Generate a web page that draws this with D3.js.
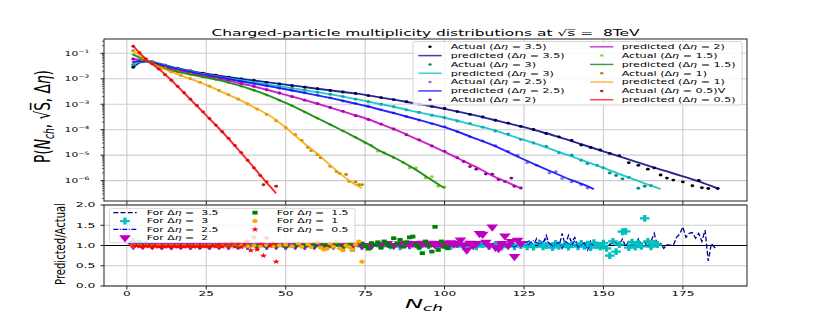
<!DOCTYPE html>
<html><head><meta charset="utf-8">
<script src="https://cdn.jsdelivr.net/npm/d3@7"></script>
<style>
html,body{margin:0;padding:0;background:#fff;}
svg{display:block;}
text{font-family:"DejaVu Sans",sans-serif;white-space:pre;fill:#000;}
</style></head><body>
<svg id="chart" width="830" height="327"></svg>
<script>
// ---------------- DATA ----------------
const xTicks = [0,25,50,75,100,125,150,175];
const xTickLabels = ["0","25","50","75","100","125","150","175"];
const topDecades = [-1,-2,-3,-4,-5,-6];
const ratioTicks = [0,0.5,1,1.5,2];
const ratioTickLabels = ["0.0","0.5","1.0","1.5","2.0"];
const etaLabels = ["3.5","3","2.5","2","1.5","1","0.5"];

// predicted curves: [Nch, log10 P]
const pred35 = [[2,-1.55],[4,-1.37],[6,-1.31],[8,-1.33],[10,-1.4],[15,-1.56],[20,-1.69],[25,-1.8],[30,-1.9],[35,-1.99],[40,-2.07],[45,-2.15],[50,-2.23],[55,-2.31],[60,-2.39],[65,-2.47],[70,-2.55],[75,-2.63],[80,-2.74],[85,-2.84],[90,-2.95],[95,-3.06],[100,-3.18],[105,-3.31],[110,-3.45],[115,-3.6],[120,-3.75],[125,-3.9],[130,-4.07],[135,-4.25],[140,-4.45],[145,-4.65],[150,-4.85],[155,-5.05],[160,-5.25],[165,-5.45],[170,-5.64],[175,-5.83],[180,-6.03],[186,-6.31]];
const pred3 = [[2,-1.45],[4,-1.33],[6,-1.31],[8,-1.35],[10,-1.42],[15,-1.58],[20,-1.72],[25,-1.84],[30,-1.95],[35,-2.05],[40,-2.14],[45,-2.24],[50,-2.33],[55,-2.43],[60,-2.53],[65,-2.63],[70,-2.75],[75,-2.87],[80,-3.0],[85,-3.13],[90,-3.27],[95,-3.4],[100,-3.53],[105,-3.68],[110,-3.84],[115,-4.0],[120,-4.2],[125,-4.4],[130,-4.6],[135,-4.83],[140,-5.05],[145,-5.27],[150,-5.5],[155,-5.74],[160,-5.97],[165,-6.2],[168,-6.33]];
const pred25 = [[2,-1.34],[4,-1.3],[6,-1.31],[8,-1.37],[10,-1.44],[15,-1.6],[20,-1.74],[25,-1.86],[30,-1.97],[35,-2.08],[40,-2.19],[45,-2.3],[50,-2.41],[55,-2.53],[60,-2.65],[65,-2.78],[70,-2.92],[75,-3.06],[80,-3.22],[85,-3.38],[90,-3.55],[95,-3.72],[100,-3.9],[105,-4.12],[110,-4.36],[115,-4.6],[120,-4.88],[125,-5.17],[130,-5.45],[135,-5.72],[140,-5.98],[145,-6.22],[147,-6.33]];
const pred2 = [[2,-1.22],[4,-1.25],[6,-1.31],[8,-1.4],[10,-1.48],[15,-1.64],[20,-1.78],[25,-1.9],[30,-2.02],[35,-2.16],[40,-2.3],[45,-2.46],[50,-2.63],[55,-2.8],[60,-2.98],[65,-3.17],[70,-3.36],[75,-3.55],[80,-3.78],[85,-4.03],[90,-4.3],[95,-4.58],[100,-4.87],[105,-5.17],[110,-5.47],[115,-5.8],[120,-6.08],[124,-6.3]];
const pred15 = [[2,-1.05],[4,-1.17],[6,-1.29],[8,-1.4],[10,-1.5],[15,-1.7],[20,-1.83],[25,-1.95],[30,-2.08],[35,-2.25],[40,-2.45],[45,-2.68],[50,-2.95],[55,-3.24],[60,-3.55],[65,-3.86],[70,-4.17],[75,-4.5],[80,-4.85],[85,-5.15],[90,-5.5],[95,-5.9],[100,-6.3]];
const pred1 = [[2,-0.9],[4,-1.08],[6,-1.25],[8,-1.4],[10,-1.52],[15,-1.78],[20,-2.0],[25,-2.24],[30,-2.52],[35,-2.8],[40,-3.12],[45,-3.45],[50,-3.92],[55,-4.45],[60,-4.95],[65,-5.5],[70,-6.0],[74,-6.3]];
const pred05 = [[2,-0.72],[4,-0.98],[6,-1.22],[8,-1.42],[10,-1.61],[15,-2.18],[20,-2.81],[25,-3.44],[30,-4.08],[35,-4.77],[40,-5.49],[45,-6.22],[47,-6.5]];

// actual points: [Nch, log10 P]
const act35 = [[2,-1.55],[5,-1.33],[8,-1.34],[12,-1.47],[16,-1.58],[20,-1.69],[24,-1.78],[28,-1.86],[32,-1.94],[36,-2.01],[40,-2.07],[44,-2.14],[48,-2.2],[52,-2.27],[56,-2.33],[60,-2.39],[64,-2.46],[68,-2.52],[72,-2.58],[76,-2.66],[80,-2.74],[84,-2.82],[88,-2.9],[92,-2.99],[96,-3.08],[100,-3.17],[104,-3.29],[108,-3.4],[112,-3.5],[116,-3.63],[120,-3.74],[124,-3.87],[128,-3.99],[132,-4.15],[136,-4.28],[140,-4.42],[143,-4.6],[146,-4.7],[149,-4.8],[152,-4.93],[155,-5.02],[158,-5.3],[161,-5.4],[164,-5.55],[166,-5.5],[168,-5.78],[170,-5.9],[172,-5.98],[175,-6.05],[178,-6.2],[180,-5.99],[181,-6.28],[183,-6.31],[186,-6.31]];
const act3 = [[2,-1.45],[5,-1.31],[8,-1.35],[12,-1.48],[16,-1.6],[20,-1.72],[24,-1.82],[28,-1.91],[32,-1.99],[36,-2.07],[40,-2.14],[44,-2.22],[48,-2.29],[52,-2.37],[56,-2.45],[60,-2.53],[64,-2.61],[68,-2.7],[72,-2.8],[76,-2.9],[80,-3.0],[84,-3.1],[88,-3.22],[92,-3.32],[96,-3.43],[100,-3.53],[104,-3.66],[108,-3.76],[112,-3.9],[116,-4.05],[120,-4.18],[124,-4.38],[128,-4.52],[132,-4.66],[136,-4.9],[140,-5.0],[143,-5.2],[145,-5.33],[148,-5.4],[150,-5.5],[152,-5.7],[154,-5.8],[156,-5.93],[158,-5.88],[161,-6.3],[163,-6.22],[165,-6.2]];
const act25 = [[2,-1.34],[5,-1.3],[8,-1.37],[12,-1.5],[16,-1.63],[20,-1.74],[24,-1.84],[28,-1.93],[32,-2.02],[36,-2.1],[40,-2.19],[44,-2.28],[48,-2.37],[52,-2.46],[56,-2.55],[60,-2.65],[64,-2.75],[68,-2.87],[72,-2.97],[76,-3.09],[80,-3.22],[84,-3.34],[88,-3.48],[92,-3.63],[96,-3.76],[100,-3.88],[104,-4.08],[108,-4.28],[112,-4.44],[116,-4.63],[120,-4.85],[123,-5.0],[126,-5.3],[129,-5.4],[133,-5.7],[135,-5.65],[137,-5.92],[140,-6.05],[143,-6.16],[145,-6.29]];
const act2 = [[2,-1.22],[5,-1.28],[8,-1.4],[12,-1.55],[16,-1.67],[20,-1.78],[24,-1.88],[28,-1.97],[32,-2.08],[36,-2.19],[40,-2.3],[44,-2.43],[48,-2.56],[52,-2.7],[56,-2.84],[60,-2.98],[64,-3.13],[68,-3.28],[72,-3.45],[76,-3.6],[80,-3.78],[84,-3.97],[88,-4.2],[92,-4.4],[96,-4.64],[100,-4.85],[104,-5.1],[106,-5.25],[108,-5.45],[110,-5.55],[113,-5.74],[115,-5.75],[117,-5.96],[119,-6.03],[121,-5.9],[122,-6.22],[124,-6.29]];
const act15 = [[2,-1.05],[5,-1.24],[8,-1.4],[12,-1.58],[16,-1.72],[20,-1.83],[24,-1.93],[28,-2.03],[32,-2.15],[36,-2.29],[40,-2.45],[44,-2.64],[48,-2.84],[52,-3.06],[56,-3.3],[60,-3.55],[64,-3.8],[68,-4.05],[72,-4.3],[75,-4.52],[77,-4.62],[79,-4.85],[81,-4.9],[84,-5.1],[87,-5.3],[89,-5.5],[91,-5.5],[94,-5.9],[96,-5.85],[98,-6.22],[100,-6.25]];
const act1 = [[2,-0.9],[5,-1.17],[8,-1.4],[11,-1.58],[14,-1.73],[17,-1.87],[20,-2.0],[23,-2.14],[26,-2.29],[29,-2.46],[32,-2.63],[35,-2.8],[38,-2.99],[41,-3.19],[44,-3.4],[47,-3.65],[50,-3.92],[53,-4.2],[55,-4.42],[57,-4.7],[58,-4.82],[60,-4.98],[61,-5.1],[64,-5.44],[66,-5.64],[67,-5.72],[69,-5.76],[70,-6.03],[72,-6.05],[73,-6.16],[74,-6.16]];
const act05 = [[2,-0.72],[4,-0.98],[6,-1.22],[8,-1.41],[10,-1.62],[12,-1.84],[14,-2.06],[16,-2.3],[18,-2.55],[20,-2.8],[22,-3.05],[24,-3.3],[26,-3.56],[28,-3.82],[30,-4.08],[32,-4.34],[34,-4.62],[36,-4.9],[38,-5.2],[40,-5.5],[42,-5.8],[43,-6.16],[44,-6.05],[47,-6.22]];

// ratio predicted/actual: [Nch, ratio]
const ratio35 = [[2,1.0],[8,1.0],[14,0.99],[20,1.0],[26,0.99],[32,1.0],[38,0.99],[44,1.0],[50,0.99],[56,1.0],[62,0.99],[68,1.0],[74,0.99],[80,1.0],[86,0.99],[92,1.01],[98,0.99],[102,1.02],[106,0.98],[110,1.03],[113,0.99],[116,1.06],[119,1.0],[121,1.08],[123,0.98],[125,1.05],[127,1.12],[128,1.0],[129,1.18],[131,1.05],[132,1.25],[133,1.02],[135,1.1],[136,0.95],[137,1.3],[138,1.0],[139,1.25],[140,1.08],[141,1.2],[142,0.98],[144,1.1],[145,0.97],[146,1.12],[148,1.05],[149,0.95],[150,1.08],[152,1.02],[153,1.1],[155,1.02],[156,1.16],[157,0.98],[158,1.1],[160,1.0],[161,1.16],[162,1.02],[163,1.08],[164,0.95],[165,1.1],[166,1.3],[167,0.98],[168,1.05],[169,0.93],[170,1.02],[172,1.0],[173,1.2],[174,1.28],[175,1.46],[176,1.2],[177,1.3],[178,1.32],[179,1.18],[180,1.3],[181,1.1],[182,1.38],[183,0.62],[184,1.05],[185,0.95],[186,1.0]];
const ratio3 = [[2,1.1],[4,1.06],[6,1.03],[8,1.0],[11,0.98],[14,0.98],[17,0.99],[20,0.98],[23,0.99],[26,0.98],[29,0.99],[32,0.98],[35,0.99],[38,0.98],[41,0.99],[44,0.98],[47,0.99],[50,0.98],[53,0.99],[56,0.98],[59,0.99],[62,0.98],[65,0.99],[68,0.98],[71,0.99],[74,0.98],[77,0.99],[80,0.98],[83,0.99],[86,0.97],[89,0.99],[92,0.97],[95,1.0],[98,0.97],[100,1.0],[102,0.98],[104,1.02],[106,0.97],[108,1.0],[110,0.97],[112,1.02],[114,0.98],[116,1.0],[118,0.96],[120,1.02],[122,0.97],[124,1.0],[126,0.97],[127,1.02],[128,0.96],[130,1.04],[131,0.97],[132,1.0],[134,0.95],[135,1.05],[136,0.98],[138,1.03],[139,0.96],[140,1.02],[142,0.97],[143,1.05],[144,0.98],[145,1.03],[146,0.95],[147,1.07],[148,1.0],[149,0.96],[150,1.06],[151,0.93],[152,0.75],[153,1.1],[154,0.85],[155,1.02],[156,1.34],[157,1.35],[158,0.95],[159,1.08],[160,0.96],[161,1.05],[162,0.98],[163,1.67],[164,1.1],[165,0.97],[166,1.05],[167,1.02]];
const ratio25 = [[2,1.02],[6,1.0],[10,0.99],[14,0.99],[18,0.99],[22,0.99],[26,0.99],[30,0.99],[34,0.99],[38,0.99],[42,0.99],[46,0.99],[50,0.99],[54,0.99],[58,0.99],[62,0.99],[66,0.99],[70,1.0],[74,0.99],[78,1.0],[82,0.99],[86,1.01],[90,0.99],[94,1.02],[98,0.98],[100,1.02],[102,0.99],[104,1.04],[106,0.98],[108,1.03],[110,1.0],[112,1.06],[114,0.97],[116,1.1],[118,0.99],[120,1.05],[122,0.96],[124,1.08],[126,1.0],[128,1.12],[130,1.03],[132,1.15],[134,0.98],[136,1.08],[137,0.92],[138,1.1],[140,1.0],[141,1.12],[142,0.96],[144,1.06],[145,0.88],[146,1.05],[147,1.0]];
const ratio2 = [[2,1.0],[5,1.0],[8,1.0],[11,1.0],[14,1.0],[17,1.0],[20,1.0],[23,1.0],[26,1.0],[29,1.0],[32,1.0],[35,1.0],[38,1.0],[41,1.0],[44,1.0],[47,1.0],[50,1.0],[53,1.0],[56,1.0],[59,1.0],[62,1.0],[65,1.0],[68,1.0],[71,1.0],[74,1.0],[77,1.0],[80,1.02],[82,1.05],[84,1.0],[86,1.04],[88,1.06],[89,1.02],[90,1.05],[91,1.04],[92,1.02],[93,1.06],[94,1.05],[95,1.03],[96,1.06],[97,1.02],[98,1.05],[99,1.04],[100,1.06],[101,1.03],[102,1.07],[103,1.04],[104,1.05],[105,1.14],[106,1.02],[107,0.89],[108,1.06],[109,1.0],[110,1.05],[111,1.3],[112,1.28],[113,1.08],[114,1.0],[115,1.46],[116,0.96],[117,0.93],[118,1.05],[119,1.24],[120,1.0],[121,1.1],[122,0.73],[123,1.13],[124,1.05]];
const ratio15 = [[2,1.0],[5,1.0],[8,1.0],[11,0.99],[14,1.0],[17,0.99],[20,1.0],[23,0.99],[26,1.0],[29,0.99],[32,1.0],[35,0.99],[38,1.0],[41,0.99],[44,1.0],[47,1.0],[50,0.99],[53,1.0],[56,1.01],[59,0.99],[62,1.02],[64,0.98],[66,1.03],[68,0.97],[70,1.04],[71,0.9],[72,1.02],[74,1.05],[75,0.98],[76,0.92],[77,1.06],[78,1.02],[79,1.08],[80,0.95],[81,1.1],[82,1.03],[83,0.98],[84,1.18],[85,1.05],[86,1.14],[87,0.97],[88,1.08],[89,1.2],[90,1.22],[91,1.02],[92,0.95],[93,0.81],[94,1.1],[95,1.0],[96,0.85],[97,1.46],[98,0.89],[99,1.1],[100,0.97],[101,0.93]];
const ratio1 = [[2,1.0],[4,0.99],[6,0.99],[8,0.98],[10,0.99],[12,0.98],[14,0.99],[16,0.98],[18,0.99],[20,0.98],[22,0.99],[24,0.98],[26,0.99],[28,0.98],[30,0.99],[32,0.98],[34,0.99],[36,1.0],[38,0.98],[40,1.0],[42,0.99],[44,1.01],[46,0.98],[48,1.0],[50,1.02],[52,0.98],[54,1.05],[55,0.97],[57,1.03],[58,0.96],[60,1.08],[61,0.95],[62,0.9],[63,0.92],[64,1.05],[65,0.97],[66,1.1],[67,0.93],[68,0.88],[69,1.0],[70,0.96],[71,0.9],[72,1.02],[73,1.1],[74,0.6]];
const ratio05 = [[2,1.0],[3,0.99],[4,0.98],[5,0.98],[6,0.99],[7,0.98],[8,0.97],[9,0.98],[10,0.97],[11,0.98],[12,0.97],[13,0.98],[14,0.97],[15,0.98],[16,0.97],[17,0.98],[18,0.97],[19,0.98],[20,0.98],[21,0.97],[22,0.98],[23,0.97],[24,0.98],[25,0.98],[26,0.97],[27,0.99],[28,0.98],[29,1.02],[30,0.97],[31,1.05],[32,0.98],[33,1.07],[34,0.97],[35,1.06],[36,0.96],[37,1.04],[38,1.1],[39,0.88],[40,1.2],[41,0.9],[42,1.05],[43,0.75],[44,1.18],[45,1.0],[46,1.05],[47,0.6]];

// ---------------- STYLE / LAYOUT ----------------
const predSeries = [pred35,pred3,pred25,pred2,pred15,pred1,pred05];
const actSeries  = [act35,act3,act25,act2,act15,act1,act05];
const actColors  = ["#000000","#008b8b","#9370db","#800080","#9acd32","#b8860b","#b22222"];
const predColors = ["#000080","#00bfbf","#0000ff","#bf00bf","#008000","#ffa500","#ff0000"];

const svg = d3.select("#chart");
const L = 104, R = 747, T1 = 39, B1 = 201, T2 = 205, B2 = 286;
const SX = 1.4; // horizontal stretch of markers

const x = d3.scaleLinear().domain([-7.2,195.2]).range([L,R]);
const yTop = d3.scaleLog().domain([Math.pow(10,-6.8), Math.pow(10,-0.438)]).range([B1,T1]);
const yBot = d3.scaleLinear().domain([0,2]).range([B2,T2]);

const defs = svg.append("defs");
defs.append("clipPath").attr("id","c1").append("rect").attr("x",L).attr("y",T1).attr("width",R-L).attr("height",B1-T1);
defs.append("clipPath").attr("id","c2").append("rect").attr("x",L).attr("y",T2).attr("width",R-L).attr("height",B2-T2);

function addParts(t,parts){
  parts.forEach(p=>{
    const s = t.append("tspan").text(p.t);
    if(p.i) s.attr("font-style","italic");
    if(p.dy!==undefined) s.attr("dy",p.dy);
    if(p.fs) s.attr("font-size",p.fs);
  });
}
function measure(parts,size){
  const t = svg.append("text").attr("font-size",size);
  addParts(t,parts);
  const w = t.node().getBBox().width; t.remove(); return w;
}
function label(parent,o){
  const g = parent.append("g").attr("transform",`translate(${o.x},${o.y}) rotate(${o.rot||0})`);
  const t = g.append("text").attr("font-size",o.size).attr("text-anchor",o.anchor||"start");
  addParts(t,o.parts);
  const w = t.node().getBBox().width;
  const k = o.target ? o.target/w : o.k;
  t.attr("transform",`scale(${k},1)`);
  return t;
}
const eta = (pre,post)=>[{t:pre+"Δ"},{t:"η",i:1},{t:post}];

// ---------- grids ----------
const grid = svg.append("g").attr("stroke","#cccccc").attr("stroke-width",1.1);
xTicks.forEach(v=>{
  grid.append("line").attr("x1",x(v)).attr("x2",x(v)).attr("y1",T1).attr("y2",B1);
  grid.append("line").attr("x1",x(v)).attr("x2",x(v)).attr("y1",T2).attr("y2",B2);
});
topDecades.forEach(d=>grid.append("line").attr("x1",L).attr("x2",R).attr("y1",yTop(Math.pow(10,d))).attr("y2",yTop(Math.pow(10,d))));
ratioTicks.forEach(v=>grid.append("line").attr("x1",L).attr("x2",R).attr("y1",yBot(v)).attr("y2",yBot(v)));

// ---------- top panel data ----------
const topG = svg.append("g").attr("clip-path","url(#c1)");
const line = d3.line().x(d=>x(d[0])).y(d=>yTop(Math.pow(10,d[1]))).curve(d3.curveMonotoneX);
predSeries.forEach((p,i)=>{
  topG.append("g").selectAll("ellipse").data(actSeries[i]).join("ellipse")
    .attr("cx",d=>x(d[0])).attr("cy",d=>yTop(Math.pow(10,d[1]))).attr("rx",1.9).attr("ry",1.45)
    .attr("fill",actColors[i]);
  topG.append("path").datum(p).attr("d",line).attr("fill","none")
    .attr("stroke",predColors[i]).attr("stroke-width",1.9).attr("stroke-opacity",0.85);
});

// ---------- bottom panel data ----------
const botG = svg.append("g").attr("clip-path","url(#c2)");
botG.append("line").attr("x1",L).attr("x2",R).attr("y1",yBot(1)).attr("y2",yBot(1)).attr("stroke","#000").attr("stroke-width",1.2);
const rline = d3.line().x(d=>x(d[0])).y(d=>yBot(d[1]));
const sym = {
  plus: d3.symbol().type(d3.symbolCross).size(26)(),
  tri: d3.symbol().type(d3.symbolTriangle).size(30)(),
  sq: d3.symbol().type(d3.symbolSquare).size(14)(),
  circ: d3.symbol().type(d3.symbolCircle).size(12)(),
  star: d3.symbol().type(d3.symbolStar).size(9)()
};
function markers(g,data,shape,color,rot){
  g.append("g").selectAll("path").data(data).join("path")
    .attr("d",sym[shape]).attr("fill",color)
    .attr("transform",d=>`translate(${x(d[0])},${yBot(d[1])}) scale(${SX},1) rotate(${rot||0})`);
}
botG.append("path").datum(ratio35).attr("d",rline).attr("fill","none").attr("stroke","#00008b").attr("stroke-width",1.3).attr("stroke-dasharray","5,2.2");
markers(botG,ratio3,"plus","#00bfbf");
botG.append("path").datum(ratio25).attr("d",rline).attr("fill","none").attr("stroke","#0000ff").attr("stroke-width",1.1).attr("stroke-dasharray","5,1.5,1,1.5");
markers(botG,ratio2,"tri","#bf00bf",180);
markers(botG,ratio15,"sq","#008000");
markers(botG,ratio1,"circ","#ffa500");
markers(botG,ratio05,"star","#ff0000");

// ---------- legends ----------
const tl = svg.append("g");
tl.append("rect").attr("x",413).attr("y",41.5).attr("width",329).attr("height",63.5).attr("rx",2)
  .attr("fill","#fff").attr("fill-opacity",0.8).attr("stroke","#cccccc").attr("stroke-width",0.8);
const topEntries = [];
etaLabels.forEach((e,i)=>{
  topEntries.push({kind:"dot",color:actColors[i],parts:eta("Actual (",` = ${e})`+(e==="0.5"?"V":""))});
  topEntries.push({kind:"line",color:predColors[i],parts:eta("predicted (",` = ${e})`)});
});
const kTop = 114/measure(eta("predicted ("," = 3.5)"),6.3);
topEntries.forEach((en,j)=>{
  const col = j<7?0:1, row = j<7?j:j-7;
  const hx0 = col===0?418.3:590, tx = col===0?450.7:621.7;
  const yy = 46.8 + row*8.82;
  if(en.kind==="dot"){
    tl.append("ellipse").attr("cx",hx0+11.7).attr("cy",yy).attr("rx",1.7).attr("ry",1.25).attr("fill",en.color);
  } else {
    tl.append("line").attr("x1",hx0).attr("x2",hx0+23.4).attr("y1",yy).attr("y2",yy)
      .attr("stroke",en.color).attr("stroke-width",1.5).attr("stroke-opacity",0.75);
  }
  label(tl,{x:tx,y:yy+2.3,size:6.3,parts:en.parts,k:kTop});
});

const bl = svg.append("g");
bl.append("rect").attr("x",109.5).attr("y",208.3).attr("width",245.5).attr("height",34.4).attr("rx",2)
  .attr("fill","#fff").attr("fill-opacity",0.8).attr("stroke","#cccccc").attr("stroke-width",0.8);
const botEntries = [
  {kind:"dash",color:"#00008b",dash:"5,2.2",w:1.3},
  {kind:"plus",color:"#00bfbf"},
  {kind:"dash",color:"#0000ff",dash:"5,1.5,1,1.5",w:1.1},
  {kind:"tri",color:"#bf00bf"},
  {kind:"sq",color:"#008000"},
  {kind:"circ",color:"#ffa500"},
  {kind:"star",color:"#ff0000"}
];
const kBot = 72/measure(eta("For ",` =  3.5`),6.3);
botEntries.forEach((en,j)=>{
  const col = j<4?0:1, row = j<4?j:j-4;
  const hx0 = col===0?113.3:243.3, tx = col===0?146.7:276.7;
  const yy = 212.7 + row*8.33;
  if(en.kind==="dash"){
    bl.append("line").attr("x1",hx0).attr("x2",hx0+23.4).attr("y1",yy).attr("y2",yy)
      .attr("stroke",en.color).attr("stroke-width",en.w).attr("stroke-dasharray",en.dash);
  } else {
    bl.append("path").attr("d",sym[en.kind]).attr("fill",en.color)
      .attr("transform",`translate(${hx0+11.7},${yy}) scale(${SX},1) rotate(${en.kind==="tri"?180:0})`);
  }
  label(bl,{x:tx,y:yy+2.3,size:6.3,parts:eta("For ",` =  ${etaLabels[j]}`),k:kBot});
});

// ---------- axes frames & ticks ----------
const ax = svg.append("g").attr("stroke","#222").attr("fill","none");
ax.append("rect").attr("x",L).attr("y",T1).attr("width",R-L).attr("height",B1-T1).attr("stroke-width",1);
ax.append("rect").attr("x",L).attr("y",T2).attr("width",R-L).attr("height",B2-T2).attr("stroke-width",1);
xTicks.forEach(v=>{
  ax.append("line").attr("x1",x(v)).attr("x2",x(v)).attr("y1",B1).attr("y2",B1+3.5);
  ax.append("line").attr("x1",x(v)).attr("x2",x(v)).attr("y1",B2).attr("y2",B2+3.5);
});
for(let d=-7; d<=0; d++){
  for(let m=1;m<=9;m++){
    const v = m*Math.pow(10,d);
    if(v < yTop.domain()[0] || v > yTop.domain()[1]) continue;
    const yy = yTop(v);
    ax.append("line").attr("x1",L).attr("x2",L-(m===1?3.5:2)).attr("y1",yy).attr("y2",yy).attr("stroke-width",m===1?1:0.7);
  }
}
ratioTicks.forEach(v=>ax.append("line").attr("x1",L).attr("x2",L-3.5).attr("y1",yBot(v)).attr("y2",yBot(v)));

const lab = svg.append("g");
xTicks.forEach((v,i)=>label(lab,{x:x(v),y:295.5,size:6.4,anchor:"middle",parts:[{t:xTickLabels[i]}],k:1.9}));
topDecades.forEach(d=>label(lab,{x:89.5,y:yTop(Math.pow(10,d))+2.3,size:6.4,anchor:"end",
  parts:[{t:"10"},{t:"−"+Math.abs(d),fs:4.6,dy:-2.8}],target:25}));
ratioTicks.forEach((v,i)=>label(lab,{x:95.5,y:yBot(v)+2.3,size:6.4,anchor:"end",parts:[{t:ratioTickLabels[i]}],k:1.95}));

label(lab,{x:425.5,y:35.5,size:8.3,anchor:"middle",
  parts:[{t:"Charged-particle multiplicity distributions at √"},{t:"s̅"},{t:" =  8TeV"}],target:429});
label(lab,{x:405,y:308.3,size:11.5,anchor:"start",parts:[{t:"N",i:1},{t:"ch",i:1,fs:8,dy:2.6}],target:38});
label(lab,{x:50,y:116.5,rot:-90,size:21,anchor:"middle",
  parts:[{t:"P("},{t:"N",i:1},{t:"ch",i:1,fs:14,dy:4},{t:", √",dy:-4},{t:"S̅"},{t:", Δ"},{t:"η",i:1},{t:")"}],target:93});
label(lab,{x:65,y:244,rot:-90,size:14.5,anchor:"middle",parts:[{t:"Predicted/Actual"}],target:82});
</script></body></html>
